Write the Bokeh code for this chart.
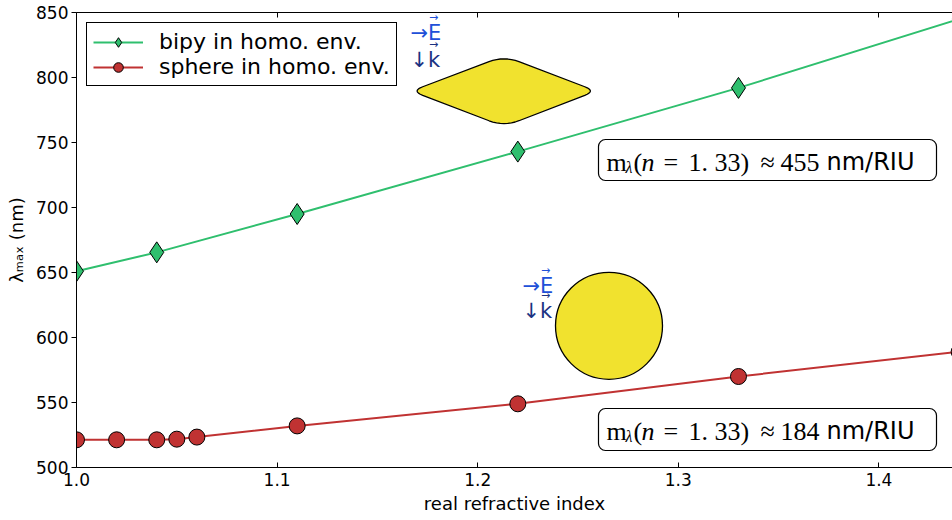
import math
from bokeh.plotting import figure
from bokeh.models import (Range1d, LinearAxis, FixedTicker, Legend, LegendItem,
                          Label, BoxAnnotation, PrintfTickFormatter)
from bokeh.embed import file_html
from bokeh.resources import INLINE

# ---------------- data ----------------
n_bipy = [1.00, 1.04, 1.11, 1.22, 1.33, 1.44]
lam_bipy = [651.0, 665.5, 695.0, 743.0, 792.0, 845.0]

n_sphere = [1.00, 1.02, 1.04, 1.05, 1.06, 1.11, 1.22, 1.33, 1.44]
lam_sphere = [521.3, 521.3, 521.3, 521.8, 523.4, 532.0, 549.0, 570.0, 589.0]

x_ticks = [1.0, 1.1, 1.2, 1.3, 1.4]
y_ticks = [500, 550, 600, 650, 700, 750, 800, 850]

label_bipy = "bipy in homo. env."
label_sphere = "sphere in homo. env."
sens_bipy = "455"
sens_sphere = "184"

# ---------------- style ----------------
GREEN = "#2fbf6e"
RED = "#c03232"
YELLOW = "#f1e22e"
BLUE = "#2150d8"
NAVY = "#1b3282"

W, H = 952, 520
FL, FT, FB = 76, 12, 53          # frame borders (px)
X0, X_PX = float(FL), 2006.0     # pixel of x=1.0 and px per unit
Y0 = float(FT)
Y_PX = (H - FT - FB) / 350.0
X_END = 1.0 + (W - X0) / X_PX
BASE_SHIFT = 8                   # alphabetic baseline correction (px)


def dx(X):
    return 1.0 + (X - X0) / X_PX


def dy(Y):
    return 850.0 - (Y - Y0) / Y_PX


p = figure(width=W, height=H, output_backend="svg", toolbar_location=None,
           x_range=Range1d(1.0, X_END), y_range=Range1d(500, 850),
           min_border_left=FL, min_border_right=0, min_border_top=FT,
           min_border_bottom=FB)
p.outline_line_color = None
p.xgrid.visible = False
p.ygrid.visible = False
p.background_fill_color = "white"
p.border_fill_color = "white"

# axes
xa = p.xaxis[0]
xa.ticker = FixedTicker(ticks=x_ticks)
xa.formatter = PrintfTickFormatter(format="%.1f")
xa.axis_label = "real refractive index"
xa.axis_label_text_font = "DejaVu Sans"
xa.axis_label_text_font_size = "18px"
xa.axis_label_text_font_style = "normal"
xa.axis_label_text_color = "black"
xa.axis_label_standoff = 4
xa.major_label_text_font = "DejaVu Sans"
xa.major_label_text_font_size = "17px"
xa.major_label_text_color = "black"
xa.major_label_standoff = 5
xa.major_tick_in = 5
xa.major_tick_out = 0
xa.minor_tick_line_color = None
xa.axis_line_color = "black"
xa.major_tick_line_color = "black"

ya = p.yaxis[0]
ya.ticker = FixedTicker(ticks=y_ticks)
ya.axis_label = "λₘₐₓ (nm)"
ya.axis_label_text_font = "DejaVu Sans"
ya.axis_label_text_font_size = "18px"
ya.axis_label_text_font_style = "normal"
ya.axis_label_text_color = "black"
ya.axis_label_standoff = 6
ya.major_label_text_font = "DejaVu Sans"
ya.major_label_text_font_size = "17px"
ya.major_label_text_color = "black"
ya.major_label_standoff = 3
ya.major_tick_in = 0
ya.major_tick_out = 5
ya.minor_tick_line_color = None
ya.axis_line_color = "black"
ya.major_tick_line_color = "black"

top = LinearAxis(ticker=FixedTicker(ticks=x_ticks),
                 major_label_text_font_size="0px",
                 major_label_overrides={t: "" for t in x_ticks},
                 major_label_standoff=0, major_tick_in=5, major_tick_out=0,
                 minor_tick_line_color=None, axis_line_color="black",
                 major_tick_line_color="black")
p.add_layout(top, "above")

# data
l1 = p.line(n_bipy, lam_bipy, line_color=GREEN, line_width=2)
s1 = p.scatter(n_bipy, lam_bipy, marker="diamond", size=21,
               fill_color=GREEN, line_color="black", line_width=1)
l2 = p.line(n_sphere, lam_sphere, line_color=RED, line_width=2)
s2 = p.scatter(n_sphere, lam_sphere, marker="circle", size=16,
               fill_color=RED, line_color="black", line_width=1)

# legend
legend = Legend(items=[LegendItem(label=label_bipy, renderers=[l1, s1]),
                       LegendItem(label=label_sphere, renderers=[l2, s2])],
                location="top_left", margin=10, padding=6, spacing=0,
                glyph_width=50, glyph_height=24, label_height=24,
                label_standoff=16, label_text_font="DejaVu Sans",
                label_text_font_size="22px", label_text_color="black",
                border_line_color="black", border_line_alpha=1.0,
                border_line_width=1, background_fill_alpha=1.0)
p.add_layout(legend)


# nanoparticle sketches
def rounded_poly(pts, ds, n=8):
    xs, ys = [], []
    m = len(pts)
    for i in range(m):
        vx, vy = pts[i]
        px_, py_ = pts[i - 1]
        nx_, ny_ = pts[(i + 1) % m]
        d = ds[i]
        l0 = math.hypot(px_ - vx, py_ - vy)
        l2 = math.hypot(nx_ - vx, ny_ - vy)
        ax, ay = vx + d * (px_ - vx) / l0, vy + d * (py_ - vy) / l0
        bx, by = vx + d * (nx_ - vx) / l2, vy + d * (ny_ - vy) / l2
        for k in range(n + 1):
            t = k / n
            xs.append((1 - t) ** 2 * ax + 2 * (1 - t) * t * vx + t ** 2 * bx)
            ys.append((1 - t) ** 2 * ay + 2 * (1 - t) * t * vy + t ** 2 * by)
    return xs, ys


rx, ry = rounded_poly([(411, 90.5), (503.5, 55.5), (595.5, 90.5), (503.5, 126)],
                      [12, 16, 12, 16])
p.patch([dx(v) for v in rx], [dy(v) for v in ry], fill_color=YELLOW,
        line_color="black", line_width=1.3)
p.scatter([dx(608.5)], [dy(325.3)], marker="circle", size=107,
          fill_color=YELLOW, line_color="black", line_width=1.3)


def lab(X, Y, text, color="black", font="DejaVu Sans", size=20, style="normal"):
    p.add_layout(Label(x=dx(X), y=dy(Y - BASE_SHIFT), text=text,
                       text_color=color, text_font=font,
                       text_font_size=f"{size}px", text_font_style=style,
                       text_align="left", text_baseline="alphabetic"))


# field / wave vector labels
for (ex, ey, ky) in [(410, 40, 67), (522, 293, 318)]:
    lab(ex, ey, "→E", BLUE, size=21)
    lab(ex + 18.5, ey - 15, "→", BLUE, size=11)
    lab(ex, ky, "↓k", NAVY, size=21)
    lab(ex + 18.5, ky - 15, "→", NAVY, size=11)

# sensitivity boxes
SF = "Liberation Serif"
for (top_y, bot_y, base, val) in [(139, 180, 169.5, sens_bipy),
                                   (408, 450, 438.5, sens_sphere)]:
    p.add_layout(BoxAnnotation(left=dx(598), right=dx(936), top=dy(top_y),
                               bottom=dy(bot_y), fill_color="white",
                               fill_alpha=1.0, line_color="black",
                               line_alpha=1.0, line_width=1.2,
                               border_radius=7))
    lab(606, base, "m", font=SF, size=26)
    lab(625, base + 5, "λ", font=SF, size=16, style="italic")
    lab(633, base, "(", font=SF, size=26)
    lab(641, base, "n", font=SF, size=26, style="italic")
    lab(663, base, "=", font=SF, size=26)
    lab(688, base, "1. 33)", font=SF, size=26)
    lab(760, base, "≈", font=SF, size=26)
    lab(780, base, val, font=SF, size=26)
    lab(826, base, "nm/RIU", size=24)

open("out.html", "w").write(file_html(p, INLINE))
